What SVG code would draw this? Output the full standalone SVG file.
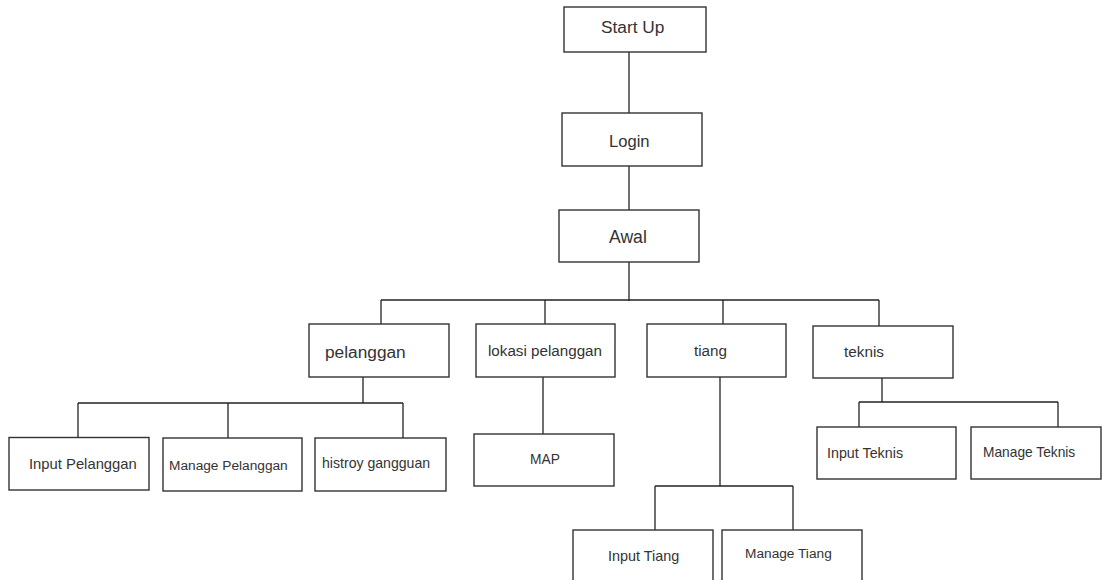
<svg xmlns="http://www.w3.org/2000/svg" width="1102" height="580" viewBox="0 0 1102 580">
<style>
rect.box{fill:#fff;stroke:#333;stroke-width:1.4}
.conn line{stroke:#222;stroke-width:1.3}
text{font-family:"Liberation Sans",Arial,sans-serif;fill:#333}
</style>
<rect width="1102" height="580" fill="#fff"/>
<g class="conn" id="connectors">
<line x1="629" y1="52" x2="629" y2="113"/>
<line x1="629" y1="166" x2="629" y2="210"/>
<line x1="629" y1="262" x2="629" y2="301"/>
<line x1="381" y1="300" x2="879" y2="300"/>
<line x1="381" y1="300" x2="381" y2="324"/>
<line x1="545" y1="300" x2="545" y2="324"/>
<line x1="723" y1="300" x2="723" y2="324"/>
<line x1="879" y1="300" x2="879" y2="326"/>
<line x1="363" y1="377" x2="363" y2="403"/>
<line x1="78" y1="403" x2="403" y2="403"/>
<line x1="78" y1="403" x2="78" y2="438"/>
<line x1="228" y1="403" x2="228" y2="438"/>
<line x1="403" y1="403" x2="403" y2="438"/>
<line x1="543" y1="377" x2="543" y2="434"/>
<line x1="720" y1="377" x2="720" y2="486"/>
<line x1="655" y1="486" x2="793" y2="486"/>
<line x1="655" y1="486" x2="655" y2="530"/>
<line x1="793" y1="486" x2="793" y2="530"/>
<line x1="882" y1="378" x2="882" y2="402"/>
<line x1="859" y1="402" x2="1058" y2="402"/>
<line x1="859" y1="402" x2="859" y2="427"/>
<line x1="1058" y1="402" x2="1058" y2="427"/>
</g>
<g id="startup"><rect class="box" x="564" y="7" width="142" height="45"/><text x="601" y="33" font-size="17.3">Start Up</text></g>
<g id="login"><rect class="box" x="562" y="113" width="140" height="53"/><text x="609" y="147" font-size="16.6">Login</text></g>
<g id="awal"><rect class="box" x="559" y="210" width="140" height="52"/><text x="609" y="243" font-size="17.6">Awal</text></g>
<g id="pelanggan"><rect class="box" x="309" y="324" width="140" height="53"/><text x="325" y="358" font-size="17.3">pelanggan</text></g>
<g id="lokasi"><rect class="box" x="476" y="324" width="139" height="53"/><text x="488" y="356" font-size="15.2">lokasi pelanggan</text></g>
<g id="tiang"><rect class="box" x="647" y="324" width="139" height="53"/><text x="694" y="356" font-size="15.2">tiang</text></g>
<g id="teknis"><rect class="box" x="813" y="326" width="140" height="52"/><text x="844" y="356.5" font-size="15.3">teknis</text></g>
<g id="inputpelanggan"><rect class="box" x="9" y="437.5" width="140" height="52.5"/><text x="29" y="469.3" font-size="14.8">Input Pelanggan</text></g>
<g id="managepelanggan"><rect class="box" x="163" y="438" width="139" height="53"/><text x="169" y="470" font-size="13.7">Manage Pelanggan</text></g>
<g id="histroy"><rect class="box" x="315" y="438" width="131" height="53"/><text x="322" y="467.7" font-size="14.1">histroy gangguan</text></g>
<g id="map"><rect class="box" x="474" y="434" width="140" height="52"/><text x="530" y="464" font-size="13.8">MAP</text></g>
<g id="inputteknis"><rect class="box" x="817" y="427" width="139" height="52"/><text x="827" y="457.7" font-size="14.3">Input Teknis</text></g>
<g id="manageteknis"><rect class="box" x="971" y="427" width="130" height="52"/><text x="983" y="456.5" font-size="13.75">Manage Teknis</text></g>
<g id="inputtiang"><rect class="box" x="573" y="530" width="140" height="60"/><text x="608" y="560.7" font-size="14.4">Input Tiang</text></g>
<g id="managetiang"><rect class="box" x="722" y="530" width="140" height="60"/><text x="745" y="558.3" font-size="13.7">Manage Tiang</text></g>
</svg>
